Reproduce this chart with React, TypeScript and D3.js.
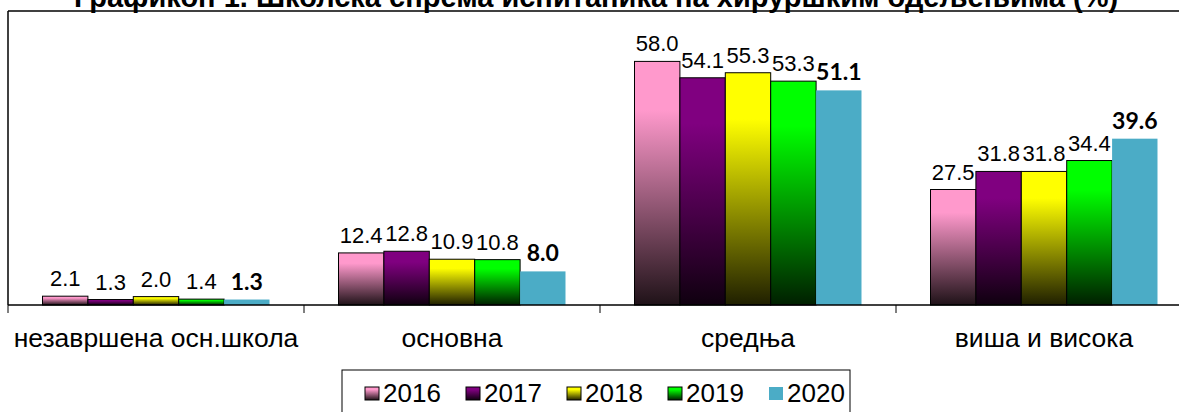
import React from 'react';
import * as d3 from 'd3';

const categories = ['незавршена осн.школа', 'основна', 'средња', 'виша и висока'];
const years = ['2016', '2017', '2018', '2019', '2020'];
const values2016 = [2.1, 12.4, 58.0, 27.5];
const values2017 = [1.3, 12.8, 54.1, 31.8];
const values2018 = [2.0, 10.9, 55.3, 31.8];
const values2019 = [1.4, 10.8, 53.3, 34.4];
const values2020 = [1.3, 8.0, 51.1, 39.6];
const seriesValues = [values2016, values2017, values2018, values2019, values2020];
const yearColors = ['#ff99cc', '#800080', '#ffff00', '#00ff00', '#4bacc6'];
const title = 'Графикон 1. Школска спрема испитаника на хируршким одељењима (%)';

const W = 1179;
const H = 412;
const plot = { left: 8, right: 1192, top: 11, bottom: 305 };

// bottom of each gradient bar is the colour taken almost to black
const dark = (c: string) => {
  const col = d3.rgb(c);
  return d3.rgb(col.r * 0.12, col.g * 0.12, col.b * 0.12).formatHex();
};

const App: React.FC = () => {
  const x0 = d3.scaleBand<string>().domain(categories).range([plot.left, plot.right]).padding(0);
  const x1 = d3.scaleBand<string>().domain(years).range([0, x0.bandwidth()]).paddingInner(0).paddingOuter(0.76);
  const y = d3.scaleLinear().domain([0, 70]).range([plot.bottom, plot.top]);
  const legendX = d3.scaleBand<string>().domain(years).range([365, 870]);

  const font = 'Arial, "Liberation Sans", sans-serif';
  const ticks = [...categories.map(c => x0(c) as number), plot.right];

  return (
    <svg width={W} height={H} style={{ position: 'absolute', left: 0, top: 0, background: '#fff' }}>
      <defs>
        {yearColors.slice(0, 4).map((c, i) => (
          <linearGradient key={i} id={`g${i}`} x1="0" y1="0" x2="0" y2="1">
            <stop offset="0" stopColor={c} />
            <stop offset="0.2" stopColor={c} />
            <stop offset="1" stopColor={dark(c)} />
          </linearGradient>
        ))}
      </defs>
      <text x={596} y={7} textAnchor="middle" fontFamily={font} fontWeight="bold" fontSize={29}>{title}</text>
      <line x1={plot.left} x2={W} y1={plot.top} y2={plot.top} stroke="#000" strokeWidth={1.5} />
      <line x1={plot.left} x2={plot.left} y1={plot.top} y2={plot.bottom} stroke="#000" strokeWidth={1.5} />

      {years.map((yr, si) => (
        <g key={yr}>
          {categories.map((cat, ci) => {
            const v = seriesValues[si][ci];
            const bx = (x0(cat) as number) + (x1(yr) as number);
            const by = y(v);
            const isLast = si === 4;
            return (
              <g key={cat}>
                <rect x={bx} y={by} width={x1.bandwidth()} height={y(0) - by}
                  fill={isLast ? yearColors[si] : `url(#g${si})`}
                  stroke={isLast ? 'none' : '#000'} strokeWidth={1} />
                <text x={bx + x1.bandwidth() / 2} y={by - 10} textAnchor="middle"
                  fontFamily={isLast ? 'Lato, "Open Sans", sans-serif' : font}
                  fontWeight={isLast ? 'bold' : 'normal'} fontSize={isLast ? 23 : 22} fill="#000">
                  {v.toFixed(1)}
                </text>
              </g>
            );
          })}
        </g>
      ))}

      <line x1={plot.left} x2={W} y1={plot.bottom} y2={plot.bottom} stroke="#000" strokeWidth={1.5} />
      {ticks.map((t, i) => (
        <line key={i} x1={t} x2={t} y1={plot.bottom} y2={plot.bottom + 8} stroke="#000" strokeWidth={1} />
      ))}
      {categories.map(c => (
        <text key={c} x={(x0(c) as number) + x0.bandwidth() / 2} y={347} textAnchor="middle"
          fontFamily={font} fontSize={26.5} fill="#000">{c}</text>
      ))}

      <rect x={342} y={370} width={508} height={50} fill="#fff" stroke="#000" strokeWidth={1} />
      {years.map((yr, i) => {
        const lx = legendX(yr) as number;
        return (
          <g key={yr}>
            <rect x={lx} y={387} width={14} height={13}
              fill={i === 4 ? yearColors[i] : `url(#g${i})`} stroke={i === 4 ? 'none' : '#000'} strokeWidth={1} />
            <text x={lx + 18} y={402} fontFamily={font} fontSize={26} fill="#000">{yr}</text>
          </g>
        );
      })}
    </svg>
  );
};

export default App;
